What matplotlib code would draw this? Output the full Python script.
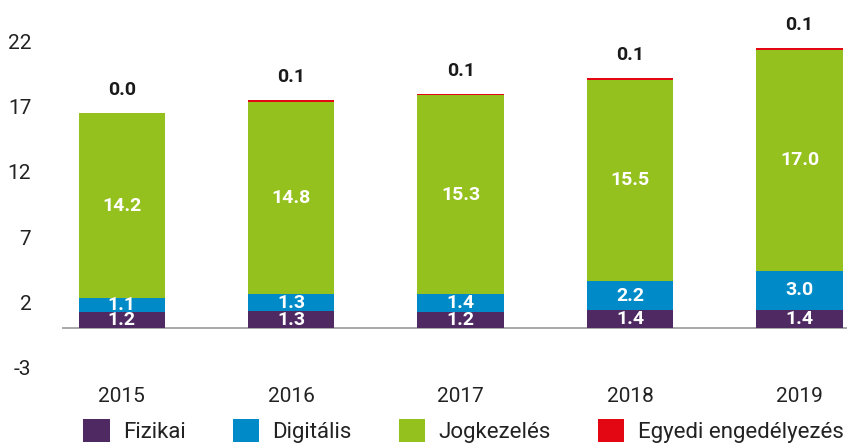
import numpy as np
import matplotlib
matplotlib.use("Agg")
import matplotlib.pyplot as plt
from matplotlib.patches import Patch

plt.rcParams['font.family'] = ['Roboto', 'DejaVu Sans']
plt.rcParams['axes.unicode_minus'] = False

years = ['2015', '2016', '2017', '2018', '2019']
fizikai = [1.2, 1.3, 1.2, 1.4, 1.4]
digitalis = [1.1, 1.3, 1.4, 2.2, 3.0]
jogkezeles = [14.2, 14.8, 15.3, 15.5, 17.0]
egyedi = [0.04, 0.1, 0.1, 0.1, 0.1]

series = [fizikai, digitalis, jogkezeles, egyedi]
names = ['Fizikai', 'Digitális', 'Jogkezelés', 'Egyedi engedélyezés']
colors = ['#4f2962', '#008bc8', '#95c11f', '#e30613']

fig = plt.figure(figsize=(8.47, 4.46), dpi=100)
ax = fig.add_axes([0.073, 0.177, 0.927, 0.729])

x = np.arange(len(years))
bottom = np.zeros(len(years))
for vals, col in zip(series, colors):
    ax.bar(x, vals, width=0.51, bottom=bottom, color=col, linewidth=0, zorder=2)
    bottom += np.array(vals)

# labels inside the segments
base = np.zeros(len(years))
for k, vals in enumerate(series[:3]):
    for i, v in enumerate(vals):
        ax.text(x[i], base[i] + v / 2, f"{v:.1f}", ha='center', va='center',
                color='white', fontsize=14, fontweight='bold', zorder=3)
    base += np.array(vals)

# top labels
for i, v in enumerate(egyedi):
    ax.text(x[i], bottom[i] + 1.1, f"{v:.1f}", ha='center', va='bottom',
            color='#1a1a1a', fontsize=14, fontweight='bold')

ax.axhline(0, color='#9a9a9a', linewidth=1.2, zorder=1)
ax.set_xlim(-0.354, 4.28)
ax.set_ylim(-3, 22)
ax.set_yticks([-3, 2, 7, 12, 17, 22])
ax.set_xticks(x)
ax.set_xticklabels(years)
ax.tick_params(axis='both', length=0, labelsize=15, colors='#222222')
ax.tick_params(axis='y', pad=22)
ax.tick_params(axis='x', pad=14)
for s in ax.spines.values():
    s.set_visible(False)

handles = [Patch(facecolor=c, edgecolor='none') for c in colors]
fig.legend(handles, names, loc='lower center', bbox_to_anchor=(0.547, -0.038), ncol=4,
           frameon=False, fontsize=16, handlelength=1.2, handleheight=1.2,
           handletextpad=0.6, columnspacing=2.1, labelcolor='#222222')

fig.savefig('out.png', dpi=100)
